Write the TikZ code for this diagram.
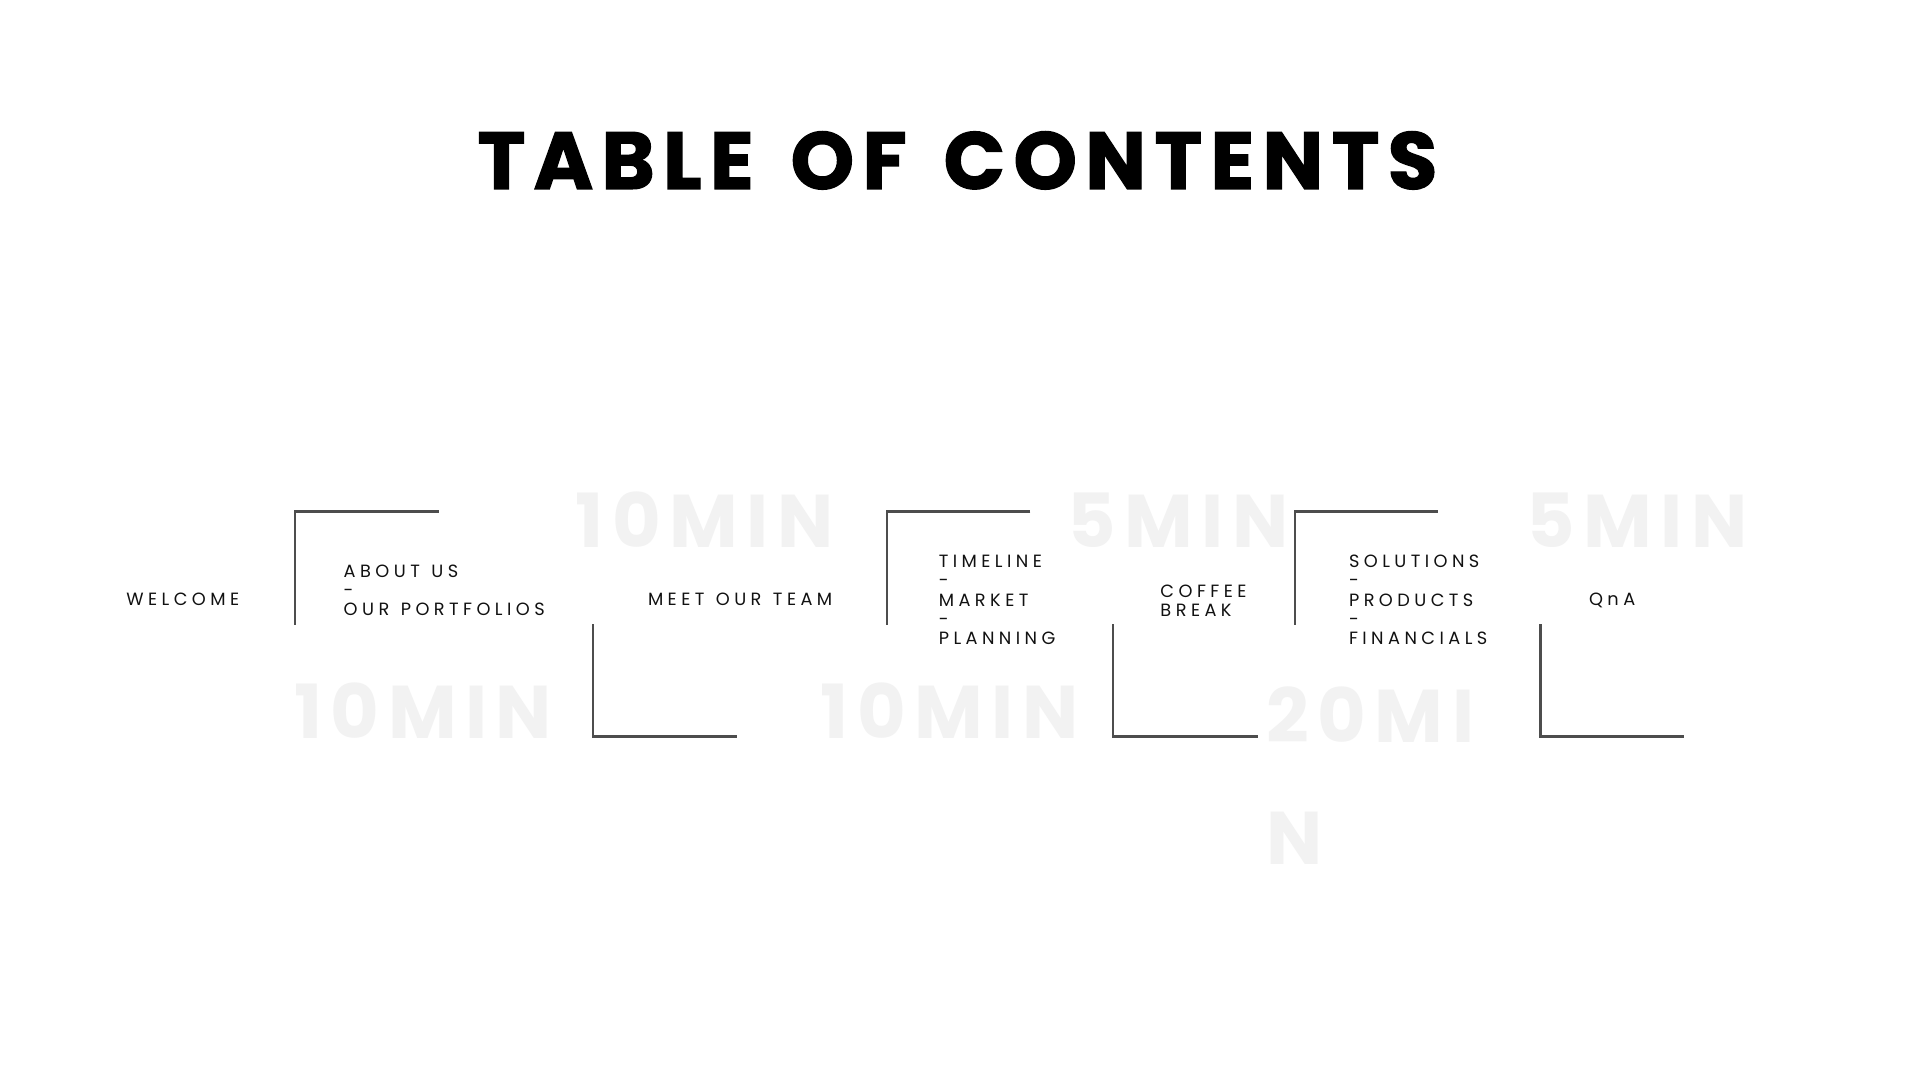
\documentclass[tikz,border=0pt]{standalone}
\usepackage{fontspec}
\setmainfont{Poppins}
\newfontfamily\titlefont[LetterSpace=10.3,WordSpace=1.45,BoldFeatures={FakeBold=1.5}]{Poppins}
\newfontfamily\labelfont[LetterSpace=25,WordSpace=1.25]{Poppins}
\newfontfamily\timefont[LetterSpace=11.5]{Poppins}
\definecolor{linegray}{HTML}{4D4D4D}
\definecolor{ghost}{HTML}{F2F2F2}
\definecolor{ink}{HTML}{111111}
\begin{document}
\begin{tikzpicture}[x=1pt,y=-1pt,
  titletext/.style={inner sep=0pt, font=\titlefont\bfseries\fontsize{66}{70}\selectfont, text=black},
  itemtext/.style={inner sep=0pt, font=\labelfont\fontsize{14.5}{15.8}\selectfont, text=ink, align=left},
  timetext/.style={inner sep=0pt, font=\timefont\bfseries\fontsize{61}{99}\selectfont, text=ghost, align=left},
  bracket/.style={draw=linegray, line width=2pt}]
\fill[white] (0,0) rectangle (1568,882);
\useasboundingbox (0,0) rectangle (1568,882);
% ghost durations
\node[timetext, anchor=base west] (t1) at (470,447) {10MIN};
\node[timetext, anchor=base west] (t2) at (871.5,447) {5MIN};
\node[timetext, anchor=base west] (t3) at (1246.5,447) {5MIN};
\node[timetext, anchor=base west] (t4) at (240,603.5) {10MIN};
\node[timetext, anchor=base west] (t5) at (670,603.5) {10MIN};
\node[timetext, anchor=north west] (t6) at (1034,561) {20MI\\N};
% brackets
\draw[bracket] (358.5,417.7) -- (241,417.7) -- (241,510.7);
\draw[bracket] (484.5,509.6) -- (484.5,601.5) -- (602,601.5);
\draw[bracket] (841.5,417.7) -- (724.5,417.7) -- (724.5,510.7);
\draw[bracket] (909,509.6) -- (909,601.5) -- (1027,601.5);
\draw[bracket] (1174,417.7) -- (1057.5,417.7) -- (1057.5,510.7);
\draw[bracket] (1258,509.6) -- (1258,601.5) -- (1375.5,601.5);
% title
\node[titletext] (title) at (782,131) {TABLE OF CONTENTS};
% items
\node[itemtext, anchor=base west] (welcome) at (103,494.5) {WELCOME};
\node[itemtext, anchor=north west] (about) at (280.5,460.8) {ABOUT US\\-\\OUR PORTFOLIOS};
\node[itemtext, anchor=base west] (team) at (529,494.5) {MEET OUR TEAM};
\node[itemtext, anchor=north west] (timeline) at (766.5,453.1) {TIMELINE\\-\\MARKET\\-\\PLANNING};
\node[itemtext, anchor=north west] (coffee) at (947.5,477.2) {COFFEE\\BREAK};
\node[itemtext, anchor=north west] (solutions) at (1101.5,453.1) {SOLUTIONS\\-\\PRODUCTS\\-\\FINANCIALS};
\node[itemtext, anchor=base west] (qna) at (1297.5,494.5) {QnA};
\end{tikzpicture}
\end{document}
